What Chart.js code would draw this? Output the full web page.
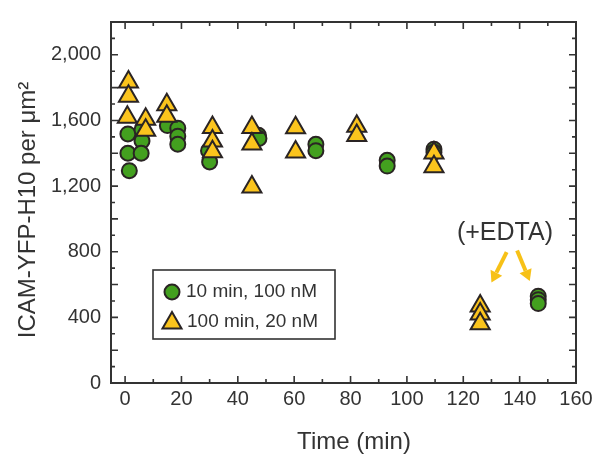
<!DOCTYPE html>
<html lang="en">
<head>
<meta charset="UTF-8">
<title>ICAM-YFP-H10 per um2 vs time</title>
<script src="https://cdn.jsdelivr.net/npm/chart.js"></script>
<style>
  html, body { margin: 0; padding: 0; background: #fff; }
  #wrap { width: 597px; height: 458px; }
</style>
</head>
<body>
<div id="wrap"><canvas id="chart" width="597" height="458"></canvas></div>
<script>
// 10 min, 100 nM (circles)
const timeShort = [1, 1, 1.5, 6, 6, 5.7, 15, 18.7, 18.7, 18.7, 29.6, 30, 47.3, 47.5, 67.7, 67.7, 93, 93, 109.6, 109.6, 146.6, 146.6, 146.6];
const densShort = [1518, 1400, 1294, 1543, 1475, 1400, 1569, 1553, 1504, 1455, 1416, 1347, 1510, 1490, 1455, 1416, 1357, 1322, 1425, 1406, 529, 508, 484];
// 100 min, 20 nM (triangles)
const timeLong = [1.2, 1.2, 0.8, 7.3, 7.3, 14.8, 14.8, 31, 31, 31, 45, 45, 45, 60.5, 60.5, 82.2, 82.2, 109.6, 109.6, 126, 126, 126];
const densLong = [1835, 1748, 1620, 1607, 1540, 1695, 1626, 1557, 1475, 1410, 1557, 1456, 1195, 1555, 1407, 1565, 1509, 1401, 1318, 469, 420, 361];

const seriesLabels = ['10 min, 100 nM', '100 min, 20 nM'];
const xTickLabels = [0, 20, 40, 60, 80, 100, 120, 140, 160];
const xMinorTicks = [10, 30, 50, 70, 90, 110, 130, 150];
const yTickLabels = [0, 400, 800, 1200, 1600, 2000];
const yMajorTicks = [200, 400, 600, 800, 1000, 1200, 1400, 1600, 1800, 2000];
const yMinorTicks = [100, 300, 500, 700, 900, 1100, 1300, 1500, 1700, 1900, 2100];

const GREEN = '#43a01f';
const YELLOW = '#fbc41d';
const EDGE = '#2a2424';
const INK = '#333333';
const FONT = '"Liberation Sans", Arial, Helvetica, sans-serif';

// (+EDTA) note and its two arrows, in data units
const edtaNote = { text: '(+EDTA)', x: 134.8, y: 912 };
const edtaArrows = [
  { x0: 135.4, y0: 798, x1: 130.0, y1: 612 },
  { x0: 139.1, y0: 808, x1: 143.6, y1: 622 }
];

function toPoints(xs, ys) {
  return xs.map((t, i) => ({ x: t, y: ys[i] }));
}

function circleAt(ctx, cx, cy, r) {
  ctx.beginPath();
  ctx.arc(cx, cy, r, 0, Math.PI * 2);
  ctx.fill();
  ctx.stroke();
}

function triangleAt(ctx, cx, cy, r) {
  ctx.beginPath();
  ctx.moveTo(cx, cy - r);
  ctx.lineTo(cx + r * Math.sqrt(3) / 2, cy + r / 2);
  ctx.lineTo(cx - r * Math.sqrt(3) / 2, cy + r / 2);
  ctx.closePath();
  ctx.fill();
  ctx.stroke();
}

const decor = {
  id: 'decor',
  beforeDatasetsDraw(chart) {
    const { ctx, chartArea: a, scales: { x, y } } = chart;
    ctx.save();
    ctx.strokeStyle = INK;
    ctx.lineWidth = 1.6;
    ctx.beginPath();
    const xt = (v, len) => {
      const p = x.getPixelForValue(v);
      ctx.moveTo(p, a.bottom); ctx.lineTo(p, a.bottom - len);
      ctx.moveTo(p, a.top); ctx.lineTo(p, a.top + len);
    };
    const yt = (v, len) => {
      const p = y.getPixelForValue(v);
      ctx.moveTo(a.left, p); ctx.lineTo(a.left + len, p);
      ctx.moveTo(a.right, p); ctx.lineTo(a.right - len, p);
    };
    xTickLabels.slice(0, -1).forEach(v => xt(v, 7));
    xMinorTicks.forEach(v => xt(v, 4));
    yMajorTicks.forEach(v => yt(v, 7));
    yMinorTicks.forEach(v => yt(v, 4));
    ctx.stroke();
    ctx.lineWidth = 2;
    ctx.strokeRect(a.left, a.top, a.right - a.left, a.bottom - a.top);

    // axis titles
    ctx.fillStyle = INK;
    ctx.font = '24px ' + FONT;
    ctx.textAlign = 'center';
    ctx.textBaseline = 'middle';
    ctx.fillText('Time (min)', 354, 442);
    ctx.translate(28, 210);
    ctx.rotate(-Math.PI / 2);
    ctx.fillText('ICAM-YFP-H10 per μm²', 0, 0);
    ctx.restore();
  },
  afterDatasetsDraw(chart) {
    const { ctx, scales: { x, y } } = chart;
    ctx.save();
    // note
    ctx.fillStyle = INK;
    ctx.font = '25px ' + FONT;
    ctx.textAlign = 'center';
    ctx.textBaseline = 'middle';
    ctx.fillText(edtaNote.text, x.getPixelForValue(edtaNote.x), y.getPixelForValue(edtaNote.y));
    // arrows
    ctx.strokeStyle = '#f7c117';
    ctx.fillStyle = '#f7c117';
    ctx.lineWidth = 4;
    edtaArrows.forEach(ar => {
      const sx = x.getPixelForValue(ar.x0), sy = y.getPixelForValue(ar.y0);
      const ex = x.getPixelForValue(ar.x1), ey = y.getPixelForValue(ar.y1);
      const ang = Math.atan2(ey - sy, ex - sx);
      const head = 11, half = 6.5;
      const bx = ex - head * Math.cos(ang), by = ey - head * Math.sin(ang);
      ctx.beginPath();
      ctx.moveTo(sx, sy);
      ctx.lineTo(bx, by);
      ctx.stroke();
      ctx.beginPath();
      ctx.moveTo(ex, ey);
      ctx.lineTo(bx + half * Math.sin(ang), by - half * Math.cos(ang));
      ctx.lineTo(bx - half * Math.sin(ang), by + half * Math.cos(ang));
      ctx.closePath();
      ctx.fill();
    });

    // legend box
    ctx.lineWidth = 1.6;
    ctx.strokeStyle = INK;
    ctx.fillStyle = '#fff';
    ctx.fillRect(153, 270, 182, 69);
    ctx.strokeRect(153, 270, 182, 69);
    ctx.lineWidth = 2;
    ctx.strokeStyle = EDGE;
    ctx.fillStyle = GREEN;
    circleAt(ctx, 172, 292, 7.5);
    ctx.fillStyle = YELLOW;
    triangleAt(ctx, 172, 323, 11);
    ctx.fillStyle = INK;
    ctx.font = '19px ' + FONT;
    ctx.textAlign = 'left';
    ctx.textBaseline = 'middle';
    ctx.fillText(seriesLabels[0], 186, 292);
    ctx.fillText(seriesLabels[1], 187, 322);
    ctx.restore();
  }
};

new Chart(document.getElementById('chart'), {
  type: 'scatter',
  data: {
    datasets: [
      {
        label: seriesLabels[0],
        data: toPoints(timeShort, densShort),
        order: 2,
        pointStyle: 'circle',
        pointRadius: 7.5,
        pointBackgroundColor: GREEN,
        pointBorderColor: EDGE,
        pointBorderWidth: 2
      },
      {
        label: seriesLabels[1],
        data: toPoints(timeLong, densLong),
        order: 1,
        pointStyle: 'triangle',
        pointRadius: 11,
        pointBackgroundColor: YELLOW,
        pointBorderColor: EDGE,
        pointBorderWidth: 2
      }
    ]
  },
  options: {
    responsive: false,
    animation: false,
    layout: { padding: { top: 11, right: 21, left: 0, bottom: 0 } },
    plugins: {
      legend: { display: false },
      tooltip: { enabled: false }
    },
    scales: {
      x: {
        type: 'linear',
        min: -5,
        max: 160,
        grid: { display: false, drawTicks: false },
        border: { display: false },
        ticks: { color: INK, font: { family: FONT, size: 20 }, padding: 4, maxRotation: 0 },
        afterBuildTicks: s => { s.ticks = xTickLabels.map(v => ({ value: v })); },
        afterFit: s => { s.height = 75; }
      },
      y: {
        type: 'linear',
        min: 0,
        max: 2200,
        grid: { display: false, drawTicks: false },
        border: { display: false },
        ticks: {
          color: INK,
          font: { family: FONT, size: 20 },
          padding: 10,
          callback: v => v.toLocaleString('en-US')
        },
        afterBuildTicks: s => { s.ticks = yTickLabels.map(v => ({ value: v })); },
        afterFit: s => { s.width = 111; }
      }
    }
  },
  plugins: [decor]
});
</script>
</body>
</html>
